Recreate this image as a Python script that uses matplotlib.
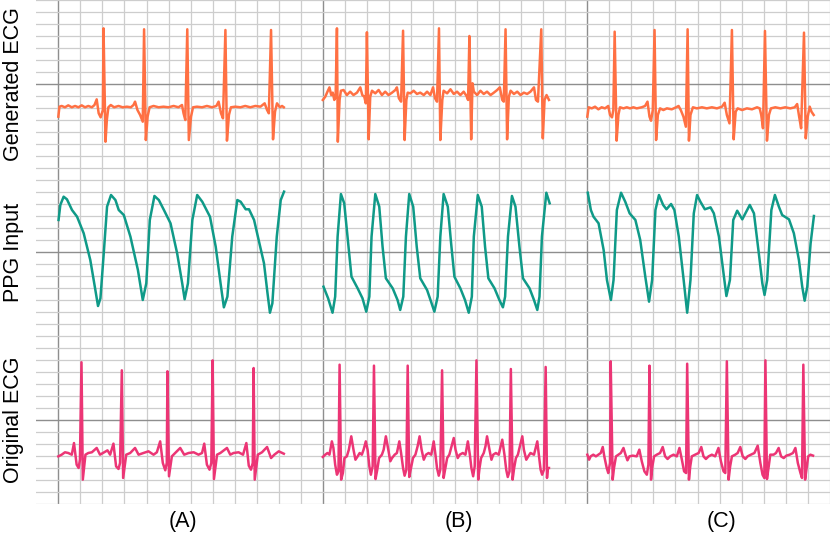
import numpy as np
import matplotlib
matplotlib.use('Agg')
import matplotlib.pyplot as plt

plt.rcParams['font.family'] = ['Liberation Sans', 'DejaVu Sans']

# traces: (time in grid cells from the column's dark line, amplitude in grid cells from the row's dark line)
a_gen = [(0, -2.72), (0.05, -1.89), (0.15, -1.83), (0.30, -1.94), (0.45, -1.78), (0.61, -1.94), (0.76, -1.83),
         (0.91, -1.94), (1.06, -1.78), (1.21, -1.94), (1.36, -1.83), (1.52, -1.94), (1.64, -1.75), (1.74, -1.28),
         (1.83, -2.44), (1.92, -2.78), (2.02, -2.17), (2.05, 4.64), (2.14, -4.81), (2.20, -3.0), (2.27, -1.94),
         (2.38, -1.75), (2.53, -1.94), (2.73, -1.83), (2.92, -1.94), (3.11, -1.89), (3.29, -1.94), (3.41, -1.75),
         (3.48, -1.47), (3.59, -2.17), (3.71, -2.58), (3.83, -3.14), (3.89, 4.56), (3.97, -4.67), (4.05, -2.72),
         (4.14, -1.94), (4.32, -1.83), (4.55, -1.94), (4.77, -1.89), (5.0, -1.94), (5.23, -1.83), (5.45, -1.94),
         (5.61, -1.75), (5.68, -2.44), (5.76, -3.0), (5.85, 4.56), (5.92, -4.67), (6.02, -2.72), (6.11, -1.94),
         (6.29, -1.89), (6.52, -1.94), (6.74, -1.83), (6.97, -1.94), (7.17, -1.83), (7.27, -1.47), (7.38, -2.44),
         (7.47, -2.86), (7.58, 4.5), (7.65, -4.72), (7.74, -2.58), (7.83, -1.94), (8.03, -1.89), (8.26, -1.94),
         (8.48, -1.83), (8.71, -1.94), (8.94, -1.83), (9.17, -1.89), (9.36, -1.61), (9.47, -2.17), (9.55, -2.44),
         (9.65, 4.5), (9.74, -4.61), (9.83, -2.31), (9.92, -1.61), (10.05, -1.94), (10.15, -1.83), (10.23, -1.94)]

b_gen = [(0, -1.33), (0.11, -1.06), (0.21, -0.64), (0.30, -0.28), (0.38, -0.92), (0.45, -0.72), (0.52, -1.33),
         (0.58, -1.06), (0.64, 4.64), (0.68, -4.81), (0.76, -1.33), (0.82, -0.56), (0.94, -0.50), (1.09, -0.92),
         (1.24, -0.64), (1.39, -0.92), (1.55, -0.72), (1.70, -0.28), (1.79, -0.92), (1.88, -1.06), (1.95, -1.61),
         (2.0, 4.31), (2.08, -4.61), (2.15, -1.06), (2.23, -0.56), (2.38, -0.78), (2.53, -0.50), (2.68, -0.92),
         (2.83, -0.64), (2.98, -0.92), (3.14, -0.72), (3.29, -0.50), (3.36, -0.28), (3.45, -1.19), (3.55, -1.47),
         (3.64, 4.44), (3.71, -4.67), (3.79, -1.33), (3.85, -0.72), (3.97, -0.78), (4.12, -0.56), (4.27, -0.83),
         (4.42, -0.72), (4.58, -0.92), (4.73, -0.64), (4.88, -0.92), (5.0, -0.28), (5.09, -1.19), (5.18, -1.47),
         (5.27, 4.64), (5.33, -4.67), (5.42, -1.33), (5.48, -0.56), (5.64, -0.78), (5.79, -0.44), (5.94, -0.83),
         (6.09, -0.64), (6.24, -0.92), (6.39, -0.64), (6.52, -1.0), (6.59, -1.33), (6.65, 4.0), (6.73, -4.61),
         (6.79, 0.06), (6.85, -0.64), (7.0, -0.92), (7.15, -0.56), (7.30, -0.83), (7.45, -0.64), (7.61, -0.92),
         (7.76, -0.72), (7.91, -0.50), (8.03, -0.28), (8.14, -1.33), (8.21, -1.47), (8.29, 4.56), (8.36, -4.61),
         (8.44, -1.06), (8.52, -0.56), (8.67, -0.83), (8.82, -0.64), (8.97, -0.92), (9.12, -0.72), (9.27, -0.83),
         (9.42, -0.64), (9.58, -0.28), (9.67, -1.33), (9.76, -1.47), (9.91, 4.56), (9.98, -4.53), (10.06, -1.33),
         (10.15, -0.92), (10.26, -1.33)]

c_gen = [(0, -2.72), (0.06, -1.94), (0.20, -2.03), (0.35, -1.89), (0.50, -2.11), (0.65, -1.94), (0.80, -2.03),
         (0.95, -1.83), (1.03, -2.58), (1.12, -2.78), (1.18, -2.17), (1.24, 4.36), (1.33, -4.72), (1.41, -2.58),
         (1.48, -1.94), (1.64, -2.03), (1.79, -1.94), (1.94, -2.03), (2.09, -1.94), (2.24, -2.03), (2.47, -1.94),
         (2.62, -1.83), (2.73, -1.47), (2.82, -2.72), (2.89, -3.06), (2.97, -2.17), (3.05, 4.5), (3.12, -4.67),
         (3.20, -2.58), (3.30, -2.03), (3.45, -2.17), (3.61, -2.03), (3.83, -2.11), (4.03, -1.94), (4.14, -1.83),
         (4.24, -2.17), (4.36, -2.72), (4.47, -3.56), (4.55, 4.56), (4.61, -4.72), (4.68, -2.58), (4.79, -1.94),
         (4.97, -2.03), (5.20, -1.94), (5.42, -2.03), (5.65, -1.94), (5.88, -2.03), (6.11, -1.89), (6.23, -1.56),
         (6.33, -2.58), (6.45, -3.28), (6.56, 4.5), (6.64, -4.61), (6.73, -2.31), (6.82, -2.03), (7.02, -2.17),
         (7.24, -2.03), (7.47, -2.11), (7.70, -1.94), (7.82, -2.03), (7.89, -2.58), (7.97, -3.69), (8.06, 4.42),
         (8.15, -4.72), (8.24, -2.58), (8.33, -2.03), (8.53, -1.94), (8.76, -2.03), (8.98, -1.94), (9.21, -2.03),
         (9.41, -1.94), (9.52, -1.67), (9.61, -2.72), (9.70, -3.69), (9.83, 4.28), (9.91, -4.53), (10.0, -2.72),
         (10.09, -1.89), (10.17, -2.31), (10.27, -2.58)]

a_ppg = [(0.01, 2.67), (0.09, 3.92), (0.24, 4.61), (0.39, 4.39), (0.62, 3.5), (0.85, 2.94), (1.15, 1.56),
         (1.45, -0.67), (1.68, -3.17), (1.80, -4.5), (1.91, -3.86), (2.06, -0.11), (2.21, 3.78), (2.39, 4.75),
         (2.59, 4.33), (2.74, 3.5), (2.97, 3.08), (3.27, 1.28), (3.61, -1.5), (3.83, -4.0), (3.99, -2.61),
         (4.15, 2.67), (4.36, 4.67), (4.56, 4.33), (4.79, 3.5), (5.09, 2.39), (5.39, -0.11), (5.62, -2.61),
         (5.73, -3.94), (5.88, -2.61), (6.08, 2.67), (6.30, 4.75), (6.53, 4.19), (6.88, 2.94), (7.14, 0.44),
         (7.36, -2.61), (7.51, -4.61), (7.67, -3.72), (7.89, 1.28), (8.12, 4.33), (8.27, 4.19), (8.5, 3.56),
         (8.65, 3.56), (8.88, 2.67), (9.33, -0.94), (9.49, -3.44), (9.6, -5.06), (9.71, -4.28), (9.91, 1.28),
         (10.09, 4.33), (10.24, 5.03)]

b_ppg = [(0.03, -2.89), (0.24, -3.86), (0.44, -5.06), (0.56, -3.72), (0.67, 1.28), (0.82, 4.83), (0.97, 4.06),
         (1.12, 1.28), (1.30, -2.06), (1.58, -3.03), (1.80, -3.86), (1.97, -4.97), (2.11, -3.72), (2.21, 1.28),
         (2.38, 4.83), (2.56, 3.78), (2.71, 0.44), (2.86, -2.19), (3.17, -3.03), (3.39, -4.0), (3.51, -4.83),
         (3.65, -3.72), (3.77, 1.28), (3.92, 4.83), (4.1, 3.78), (4.26, 0.44), (4.42, -2.19), (4.73, -3.17),
         (4.91, -4.14), (5.06, -4.97), (5.21, -3.72), (5.33, 1.28), (5.48, 4.83), (5.67, 3.78), (5.82, 0.72),
         (5.97, -2.06), (6.24, -3.03), (6.45, -4.0), (6.62, -5.06), (6.76, -3.72), (6.85, 1.28), (7.03, 4.75),
         (7.21, 3.78), (7.36, 0.44), (7.51, -2.19), (7.79, -3.03), (8.01, -4.0), (8.17, -4.61), (8.27, -3.72),
         (8.4, 1.28), (8.58, 4.67), (8.74, 3.78), (8.92, 0.44), (9.08, -2.19), (9.38, -3.03), (9.58, -4.0),
         (9.73, -4.83), (9.83, -3.72), (9.94, 1.28), (10.14, 4.94), (10.29, 4.06)]

c_ppg = [(0.02, 4.94), (0.16, 3.5), (0.28, 2.94), (0.51, 2.39), (0.74, 0.17), (0.89, -2.33), (1.07, -4.0),
         (1.19, -2.33), (1.34, 3.5), (1.53, 4.94), (1.72, 4.19), (1.92, 3.22), (2.18, 2.67), (2.40, 1.0),
         (2.63, -2.06), (2.80, -4.14), (2.94, -2.33), (3.09, 3.5), (3.25, 4.75), (3.44, 3.92), (3.59, 3.56),
         (3.80, 4.0), (3.95, 3.5), (4.15, 1.28), (4.37, -2.33), (4.53, -5.06), (4.68, -2.33), (4.83, 3.22),
         (4.98, 4.75), (5.13, 4.19), (5.33, 3.56), (5.59, 3.72), (5.74, 3.22), (5.97, 1.28), (6.16, -1.5),
         (6.31, -3.67), (6.47, -2.33), (6.62, 2.67), (6.80, 3.44), (7.03, 2.72), (7.37, 3.92), (7.56, 3.22),
         (7.78, -0.11), (7.94, -2.61), (8.04, -3.58), (8.16, -2.33), (8.35, 3.5), (8.51, 4.75), (8.69, 3.78),
         (8.84, 3.08), (9.15, 2.72), (9.37, 1.56), (9.60, -0.67), (9.75, -2.89), (9.86, -4.06), (9.98, -2.89),
         (10.13, 0.72), (10.28, 3.0)]

a_ecg = [(0, -3.03), (0.15, -2.89), (0.30, -2.69), (0.45, -2.75), (0.61, -2.89), (0.71, -1.92), (0.83, -3.72),
         (0.92, -4.0), (0.98, -3.31), (1.05, 4.81), (1.11, -4.97), (1.23, -2.89), (1.36, -2.75), (1.52, -2.69),
         (1.74, -2.33), (1.89, -2.89), (2.08, -2.69), (2.23, -2.53), (2.35, -2.89), (2.50, -1.97), (2.62, -3.86),
         (2.73, -4.08), (2.80, -3.58), (2.88, 4.14), (2.94, -4.83), (3.08, -2.89), (3.26, -2.75), (3.48, -2.33),
         (3.64, -2.89), (3.86, -2.75), (4.09, -2.61), (4.32, -2.89), (4.47, -2.69), (4.62, -1.78), (4.74, -3.58),
         (4.85, -4.19), (4.92, -3.58), (4.95, 4.06), (5.02, -4.69), (5.15, -3.03), (5.30, -2.75), (5.53, -2.33),
         (5.71, -2.89), (5.91, -2.75), (6.14, -2.69), (6.36, -2.89), (6.52, -2.75), (6.62, -1.97), (6.74, -3.72),
         (6.86, -4.14), (6.94, -3.58), (7.0, 4.97), (7.06, -4.92), (7.20, -2.89), (7.35, -2.75), (7.65, -2.33),
         (7.80, -2.89), (7.95, -2.75), (8.18, -2.69), (8.38, -2.89), (8.53, -1.92), (8.64, -3.81), (8.74, -4.14),
         (8.82, -3.58), (8.86, 4.33), (8.91, -4.97), (9.05, -2.89), (9.24, -2.69), (9.47, -2.25), (9.65, -3.17),
         (9.80, -2.89), (10.0, -2.61), (10.23, -2.81)]

b_ecg = [(0, -3.08), (0.11, -2.89), (0.21, -2.75), (0.30, -2.89), (0.41, -1.78), (0.48, -2.33), (0.56, -3.72),
         (0.64, -4.56), (0.71, -4.28), (0.76, 4.61), (0.83, -4.97), (0.91, -4.42), (0.98, -3.17), (1.09, -3.03),
         (1.18, -2.47), (1.29, -1.36), (1.39, -2.47), (1.48, -3.31), (1.58, -3.03), (1.67, -2.75), (1.77, -2.89),
         (1.85, -2.47), (1.95, -1.78), (2.03, -2.47), (2.11, -3.86), (2.18, -4.56), (2.26, -3.86), (2.32, 4.53),
         (2.39, -4.92), (2.47, -4.14), (2.55, -3.17), (2.68, -2.89), (2.76, -2.47), (2.86, -1.36), (2.97, -2.47),
         (3.06, -3.44), (3.14, -3.17), (3.26, -2.89), (3.36, -2.75), (3.47, -1.78), (3.55, -2.75), (3.64, -4.0),
         (3.71, -4.64), (3.79, -4.14), (3.85, 4.53), (3.92, -4.75), (4.0, -4.0), (4.09, -3.17), (4.20, -2.89),
         (4.30, -2.19), (4.39, -1.36), (4.48, -2.47), (4.58, -3.31), (4.68, -2.89), (4.80, -2.75), (4.92, -2.89),
         (5.03, -1.78), (5.11, -2.89), (5.18, -4.0), (5.26, -4.64), (5.33, -4.14), (5.41, 4.14), (5.48, -4.83),
         (5.56, -4.0), (5.64, -3.17), (5.74, -2.89), (5.82, -2.33), (5.94, -1.5), (6.02, -2.47), (6.12, -3.17),
         (6.21, -2.89), (6.35, -2.75), (6.47, -2.89), (6.58, -1.78), (6.67, -2.89), (6.74, -4.0), (6.82, -4.69),
         (6.89, -3.86), (6.97, 4.97), (7.05, -4.97), (7.11, -4.0), (7.18, -3.17), (7.30, -2.75), (7.38, -2.19),
         (7.45, -1.36), (7.56, -2.47), (7.65, -3.31), (7.73, -2.89), (7.85, -2.75), (7.98, -2.89), (8.14, -1.64),
         (8.24, -2.89), (8.32, -4.14), (8.39, -4.75), (8.47, -4.28), (8.53, 4.25), (8.61, -4.97), (8.68, -4.0),
         (8.76, -3.17), (8.85, -2.89), (8.94, -2.19), (9.05, -1.36), (9.12, -2.47), (9.23, -3.31), (9.32, -3.03),
         (9.42, -2.75), (9.58, -2.89), (9.73, -1.78), (9.80, -2.89), (9.88, -4.14), (9.95, -4.56), (10.03, -4.14),
         (10.11, 4.42), (10.17, -4.83), (10.21, -4.0), (10.26, -4.0)]

c_ecg = [(0, -2.89), (0.08, -3.31), (0.15, -3.03), (0.27, -2.89), (0.39, -3.03), (0.50, -2.89), (0.61, -2.75),
         (0.70, -2.25), (0.77, -3.03), (0.88, -4.0), (0.95, -4.42), (1.03, -3.58), (1.06, 4.89), (1.15, -4.97),
         (1.21, -4.0), (1.30, -3.03), (1.41, -2.89), (1.52, -2.75), (1.64, -2.33), (1.73, -2.89), (1.82, -3.36),
         (1.91, -3.03), (2.06, -2.97), (2.24, -3.03), (2.36, -2.47), (2.47, -3.44), (2.59, -4.28), (2.70, -4.56),
         (2.77, -3.72), (2.82, 4.53), (2.89, -4.97), (2.95, -3.86), (3.03, -3.03), (3.15, -2.89), (3.30, -2.75),
         (3.42, -2.25), (3.53, -3.03), (3.64, -3.25), (3.76, -3.03), (3.91, -2.89), (4.06, -3.03), (4.18, -2.33),
         (4.29, -3.31), (4.39, -4.28), (4.48, -4.42), (4.53, 4.69), (4.61, -4.97), (4.67, -3.86), (4.74, -3.03),
         (4.89, -2.89), (5.05, -2.75), (5.17, -2.25), (5.27, -3.03), (5.38, -3.25), (5.50, -3.03), (5.65, -2.89),
         (5.80, -3.03), (5.95, -2.33), (6.06, -3.44), (6.18, -4.28), (6.26, -4.42), (6.33, 4.89), (6.41, -4.97),
         (6.48, -3.86), (6.56, -3.03), (6.71, -2.89), (6.82, -2.75), (6.94, -2.25), (7.05, -3.03), (7.17, -3.25),
         (7.27, -3.03), (7.42, -2.89), (7.58, -2.75), (7.73, -2.14), (7.85, -3.58), (7.95, -4.56), (8.03, -4.83),
         (8.08, 4.97), (8.15, -4.92), (8.23, -3.86), (8.30, -2.89), (8.45, -2.89), (8.56, -2.75), (8.68, -2.33),
         (8.79, -3.03), (8.91, -3.17), (9.03, -2.97), (9.18, -2.89), (9.33, -2.75), (9.44, -2.33), (9.55, -3.58),
         (9.67, -4.42), (9.74, -4.83), (9.80, 4.61), (9.88, -4.97), (9.94, -4.14), (10.02, -3.03), (10.12, -2.89),
         (10.24, -2.97)]

columns = ['(A)', '(B)', '(C)']
rows = ['Generated ECG', 'PPG Input', 'Original ECG']
traces = [[a_gen, b_gen, c_gen], [a_ppg, b_ppg, c_ppg], [a_ecg, b_ecg, c_ecg]]
colors = ['#ff7043', '#0f9a88', '#ec3575']

col_start = [1, 13, 25]   # dark vertical grid line of each column (cells)
row_mid = [35, 21, 7]     # dark horizontal grid line of each row (cells)

fig = plt.figure(figsize=(8.3, 5.34), dpi=100)
ax = fig.add_axes([36.3 / 830, 30 / 534, (830 - 36.3) / 830, 504 / 534])
ax.set_xlim(0, 36.01)
ax.set_ylim(0, 42)

ax.set_xticks(col_start)
ax.set_xticks([i for i in range(1, 37) if i not in col_start], minor=True)
ax.set_yticks(row_mid)
ax.set_yticks([i for i in range(0, 43) if i not in row_mid], minor=True)
ax.grid(which='minor', color='#cdcdcd', lw=0.9)
ax.grid(which='major', color='#8e8e8e', lw=1.0)
ax.tick_params(which='both', length=0, labelbottom=False, labelleft=False)
for s in ax.spines.values():
    s.set_visible(False)
ax.set_axisbelow(True)

for r in range(3):
    for c in range(3):
        pts = np.array(traces[r][c])
        ax.plot(col_start[c] + pts[:, 0], row_mid[r] + pts[:, 1], color=colors[r], lw=1.8,
                solid_joinstyle='round')

lab_x = [6.66, 19.18, 31.1]
for c in range(3):
    ax.text(lab_x[c], -1.42, columns[c], ha='center', va='center', fontsize=15.5, clip_on=False)
for r in range(3):
    ax.text(-1.05, row_mid[r], rows[r], ha='center', va='center', rotation=90, fontsize=15.5, clip_on=False)

fig.savefig('out.png', dpi=100)
